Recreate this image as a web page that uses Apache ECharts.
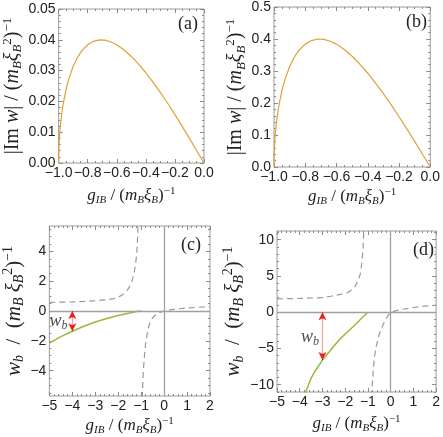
<!DOCTYPE html>
<html><head><meta charset="utf-8">
<script src="https://cdn.jsdelivr.net/npm/echarts@6/dist/echarts.min.js"></script>
<style>html,body{margin:0;padding:0;background:#fff}#c{width:443px;height:437px}</style>
</head><body><div id="c"></div>
<script>
// ---------- data ----------
// panel (a)
const gA = [-1, -0.999, -0.995, -0.99, -0.98, -0.97, -0.95, -0.93, -0.9, -0.87, -0.84, -0.8, -0.76, -0.72, -0.68, -0.64, -0.6, -0.55, -0.5, -0.45, -0.4, -0.35, -0.3, -0.25, -0.2, -0.15, -0.1, -0.05, 0];
const imA = [0, 0.0036, 0.0079, 0.0112, 0.0156, 0.0189, 0.0237, 0.0273, 0.0314, 0.0343, 0.0365, 0.0384, 0.0395, 0.0400, 0.0399, 0.0393, 0.0384, 0.0367, 0.0346, 0.0321, 0.0293, 0.0262, 0.0229, 0.0194, 0.0157, 0.0119, 0.0080, 0.0040, 0];
// panel (b)
const gB = [-1, -0.999, -0.995, -0.99, -0.98, -0.97, -0.95, -0.93, -0.9, -0.87, -0.84, -0.8, -0.76, -0.72, -0.68, -0.64, -0.6, -0.55, -0.5, -0.45, -0.4, -0.35, -0.3, -0.25, -0.2, -0.15, -0.1, -0.05, 0];
const imB = [0, 0.036, 0.079, 0.112, 0.156, 0.189, 0.237, 0.273, 0.314, 0.343, 0.365, 0.384, 0.395, 0.400, 0.399, 0.393, 0.384, 0.367, 0.346, 0.321, 0.293, 0.262, 0.229, 0.194, 0.157, 0.119, 0.080, 0.040, 0];
// panel (c)
const gCUp = [-5, -4.5, -4, -3.5, -3, -2.5, -2.2, -2, -1.8, -1.6, -1.5, -1.4, -1.3, -1.25, -1.2, -1.17, -1.15, -1.13];
const wCUp = [0.58, 0.59, 0.61, 0.64, 0.69, 0.75, 0.83, 0.92, 1.1, 1.4, 1.65, 2.0, 2.6, 3.1, 3.7, 4.4, 5.2, 6.5];
const gCLo = [-0.96, -0.95, -0.92, -0.9, -0.85, -0.8, -0.7, -0.6, -0.5, -0.4, -0.3, -0.2, -0.1, 0, 0.5, 1, 1.5, 2];
const wCLo = [-6.5, -5.7, -4.5, -3.9, -2.9, -2.1, -1.2, -0.7, -0.45, -0.3, -0.19, -0.12, -0.05, 0, 0.13, 0.2, 0.25, 0.29];
const gCGr = [-5, -4.5, -4, -3.5, -3, -2.5, -2, -1.5, -1.2, -1];
const wCGr = [-2.15, -1.72, -1.36, -1.02, -0.74, -0.5, -0.3, -0.13, -0.04, 0];
const arrowC = [-4, 0, -1.36];      // g, top, bottom
const wbLabelC = [-4.6, -0.72];
// panel (d)
const gDUp = [-5, -4, -3, -2.63, -2.2, -1.91, -1.7, -1.55, -1.45, -1.34, -1.28, -1.22, -1.19, -1.17];
const wDUp = [1.84, 1.9, 2.0, 2.2, 2.45, 2.67, 3.1, 3.6, 4.3, 5.2, 6.5, 8.4, 10.7, 13];
const gDLo = [-0.84, -0.83, -0.8, -0.76, -0.7, -0.62, -0.5, -0.4, -0.3, -0.18, -0.1, 0, 0.5, 1, 1.5, 2];
const wDLo = [-13, -11, -9.5, -7.7, -5.9, -4.5, -3.0, -2.2, -1.5, -0.8, -0.4, 0, 0.4, 0.65, 0.83, 0.97];
const gDGr = [-1.0, -1.2, -1.4, -1.62, -2.0, -2.2, -2.5, -3.0, -3.3, -3.5, -3.74, -3.8];
const wDGr = [0, -0.6, -1.2, -1.9, -3.0, -3.6, -4.7, -6.6, -8.0, -9.1, -11, -11.4];
const arrowD = [-3, 0, -6.6];
const wbLabelD = [-3.55, -3.4];
// ticks
const xTicksAB = [-1, -0.8, -0.6, -0.4, -0.2, 0];
const yTicksA = [0, 0.01, 0.02, 0.03, 0.04, 0.05];
const yTicksB = [0, 0.1, 0.2, 0.3, 0.4, 0.5];
const xTicksCD = [-5, -4, -3, -2, -1, 0, 1, 2];
const yTicksC = [-4, -2, 0, 2, 4];
const yTicksD = [-10, -5, 0, 5, 10];

// ---------- styling ----------
const SERIF = '"Liberation Serif","DejaVu Serif",serif';
const SANS = '"Liberation Sans",Arial,sans-serif';
const TXT = '#222';
function richFor(fs) {
  const s = Math.round(fs * 0.65);
  return {
    n: {fontFamily: SERIF, fontSize: fs, color: TXT, verticalAlign: 'middle'},
    i: {fontFamily: SERIF, fontSize: fs, fontStyle: 'italic', color: TXT, verticalAlign: 'middle'},
    sb: {fontFamily: SERIF, fontSize: s, fontStyle: 'italic', color: TXT, padding: [Math.round(fs * 0.5), 0, 0, 0], verticalAlign: 'middle'},
    sp: {fontFamily: SERIF, fontSize: s, color: TXT, padding: [0, 0, Math.round(fs * 0.55), 0], verticalAlign: 'middle'}
  };
}
const richX = richFor(17), richYab = richFor(20), richYcd = richFor(21), richWb = richFor(18);
const xName = '{i|g}{sb|IB}{n| / (}{i|m}{sb|B}{i|ξ}{sb|B}{n|)}{sp|−1}';
const yNameAB = '{n||Im }{i|w}{n|| / (}{i|m}{sb|B}{i|ξ}{sb|B}{sp|2}{n|)}{sp|−1}';
const yNameCD = '{i|w}{sb|b}{n|  /  (}{i|m}{sb|B}{i| ξ}{sb|B}{sp|2}{n|)}{sp|−1}';

function minorsOf(min, max, step, majors) {
  const out = [];
  const start = Math.ceil(min / step - 1e-9);
  const end = Math.floor(max / step + 1e-9);
  for (let k = start; k <= end; k++) {
    const v = +(k * step).toFixed(6);
    if (!majors.some(m => Math.abs(m - v) < 1e-9)) out.push(v);
  }
  return out;
}
const minus = s => String(s).replace('-', '−');

const xAxes = [], yAxes = [];
function addAxes(list, dim, gi, min, max, majors, minorStep, fmt, name, nameGap, nrich) {
  const minors = minorsOf(min, max, minorStep, majors);
  const pos = dim === 'x' ? ['bottom', 'top'] : ['left', 'right'];
  const base = {gridIndex: gi, type: 'value', min, max, axisLine: {show: false, onZero: false}, splitLine: {show: false}};
  const idx = list.length;
  pos.forEach((p, k) => {
    list.push(Object.assign({}, base, {
      position: p,
      axisTick: {show: true, inside: true, length: 4, customValues: majors, lineStyle: {color: '#8a8a8a'}},
      axisLabel: k === 0 ? {show: true, customValues: majors, formatter: fmt, fontFamily: SANS, fontSize: 14, color: TXT, margin: 3} : {show: false},
      name: k === 0 ? name : '', nameLocation: 'middle', nameGap: nameGap,
      nameTextStyle: {rich: nrich}
    }));
    list.push(Object.assign({}, base, {
      position: p,
      axisTick: {show: true, inside: true, length: 2, customValues: minors, lineStyle: {color: '#8a8a8a'}},
      axisLabel: {show: false}
    }));
  });
  return idx;
}

const grids = [
  {left: 53, top: 9, width: 151, height: 154},
  {left: 274, top: 7, width: 160, height: 160},
  {left: 42, top: 226, width: 168, height: 170},
  {left: 277, top: 231, width: 162, height: 161}
].map(g => Object.assign(g, {show: true, borderColor: '#9a9a9a', borderWidth: 1, backgroundColor: 'transparent'}));

const fx1 = v => minus(v.toFixed(1));
const fint = v => minus(String(v));
const xa = addAxes(xAxes, 'x', 0, -1, 0, xTicksAB, 0.05, fx1, xName, 23, richX);
const ya = addAxes(yAxes, 'y', 0, 0, 0.05, yTicksA, 0.002, v => v.toFixed(2), yNameAB, 20, richYab);
const xb = addAxes(xAxes, 'x', 1, -1, 0, xTicksAB, 0.05, fx1, xName, 20, richX);
const yb = addAxes(yAxes, 'y', 1, 0, 0.5, yTicksB, 0.02, v => v.toFixed(1), yNameAB, 18, richYab);
const xc = addAxes(xAxes, 'x', 2, -5, 2, xTicksCD, 0.2, fint, xName, 20, richX);
const yc = addAxes(yAxes, 'y', 2, -5.7, 5.7, yTicksC, 0.5, fint, yNameCD, 15, richYcd);
const xd = addAxes(xAxes, 'x', 3, -5, 2, xTicksCD, 0.2, fint, xName, 22, richX);
const yd = addAxes(yAxes, 'y', 3, -11, 11.2, yTicksD, 1, fint, yNameCD, 21, richYcd);

const zip = (a, b) => a.map((v, i) => [v, b[i]]);
const ORANGE = '#E3A035', GREEN = '#9AB83C', DASH = '#9a9a9a';

function curve(xi, yi, data, color, dashed, width, extra) {
  return Object.assign({
    type: 'line', xAxisIndex: xi, yAxisIndex: yi, data: data, showSymbol: false, symbol: 'none',
    silent: true, animation: false, clip: true,
    lineStyle: {color: color, width: width, type: dashed ? [6, 4] : 'solid'}
  }, extra || {});
}
function zeroLines() {
  return {silent: true, symbol: 'none', animation: false, label: {show: false},
    lineStyle: {color: '#a0a0a0', width: 1.3, type: 'solid'},
    data: [{xAxis: 0}, {yAxis: 0}]};
}
function arrowML(arr) {
  const [g, top, bot] = arr;
  const h = (top - bot) * 0.12;
  return {silent: true, animation: false, label: {show: false}, symbolSize: [6, 8],
    data: [
      [{coord: [g, top], symbol: 'none', lineStyle: {color: '#F5A3A3', width: 1.2, type: 'solid'}}, {coord: [g, bot], symbol: 'none'}],
      [{coord: [g, top - h], symbol: 'none', lineStyle: {color: '#EE1C1C', width: 1, type: 'solid'}}, {coord: [g, top], symbol: 'arrow'}],
      [{coord: [g, bot + h], symbol: 'none', lineStyle: {color: '#EE1C1C', width: 1, type: 'solid'}}, {coord: [g, bot], symbol: 'arrow'}]
    ]};
}
function wbLabel(xi, yi, pos) {
  return {type: 'scatter', xAxisIndex: xi, yAxisIndex: yi, data: [pos], symbolSize: 0, silent: true, animation: false,
    label: {show: true, position: 'inside', formatter: '{i|w}{sb|b}', rich: richWb}};
}

const series = [
  curve(xa, ya, zip(gA, imA), ORANGE, false, 1.2),
  curve(xb, yb, zip(gB, imB), ORANGE, false, 1.2),
  curve(xc, yc, zip(gCUp, wCUp), DASH, true, 1.2, {markLine: zeroLines()}),
  curve(xc, yc, zip(gCLo, wCLo), DASH, true, 1.2),
  curve(xc, yc, zip(gCGr, wCGr), GREEN, false, 1.5, {markLine: arrowML(arrowC)}),
  wbLabel(xc, yc, wbLabelC),
  curve(xd, yd, zip(gDUp, wDUp), DASH, true, 1.2, {markLine: zeroLines()}),
  curve(xd, yd, zip(gDLo, wDLo), DASH, true, 1.2),
  curve(xd, yd, zip(gDGr, wDGr), GREEN, false, 1.5, {markLine: arrowML(arrowD)}),
  wbLabel(xd, yd, wbLabelD)
];

const panelLabel = (t, left, top) => ({type: 'text', left: left, top: top,
  style: {text: t, font: '18px ' + SERIF, fill: TXT}});

const chart = echarts.init(document.getElementById('c'), null, {renderer: 'canvas'});
chart.setOption({
  animation: false,
  backgroundColor: '#fff',
  grid: grids,
  xAxis: xAxes,
  yAxis: yAxes,
  series: series,
  graphic: [
    panelLabel('(a)', 178, 15),
    panelLabel('(b)', 406, 13),
    panelLabel('(c)', 181, 236),
    panelLabel('(d)', 413, 241)
  ]
});
</script>
</body></html>
